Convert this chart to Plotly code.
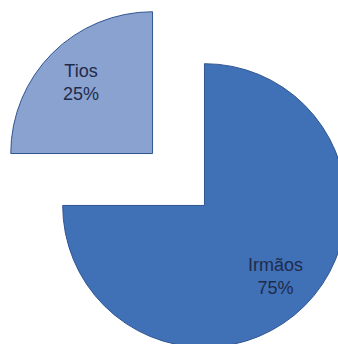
import math
import plotly.graph_objects as go

# Family breakdown shown as an exploded two-slice pie
labels = ["Irmãos", "Tios"]
values = [75, 25]
colors = ["#4070b6", "#8aa2cf"]
pulls = [0.259, 0.259]

W, H = 357, 359
text_color = "#1f2b4a"

fig = go.Figure(
    go.Pie(
        labels=labels,
        values=values,
        sort=False,
        direction="clockwise",
        rotation=0,
        pull=pulls,
        marker=dict(colors=colors, line=dict(color="#2f5590", width=1)),
        textinfo="none",
        hoverinfo="label+percent",
        showlegend=False,
        domain=dict(x=[0, 1], y=[0, 1]),
    )
)

# Slice labels sit along each slice's bisector, following the pie's own geometry
# (first slice starts at 12 o'clock and slices run clockwise)
total = sum(values)
max_pull = max(pulls)
radius = min(W, H) / 2 / (1 + max_pull)
cx, cy = W / 2, H / 2
start = 90.0
annotations = []
for lab, val, pull in zip(labels, values, pulls):
    frac = val / total
    mid = math.radians(start - frac * 360 / 2)
    start -= frac * 360
    dist = radius * (pull + 0.71)
    px = cx + dist * math.cos(mid)
    py = cy - dist * math.sin(mid)
    annotations.append(
        dict(
            x=px / W,
            y=1 - py / H,
            xref="paper",
            yref="paper",
            text=f"{lab}<br>{round(frac * 100)}%",
            showarrow=False,
            xanchor="center",
            yanchor="middle",
            align="center",
            font=dict(family="Liberation Sans, Arial, sans-serif", size=18, color=text_color),
        )
    )

fig.update_layout(
    width=W,
    height=H,
    margin=dict(l=0, r=0, t=0, b=0),
    paper_bgcolor="white",
    plot_bgcolor="white",
    showlegend=False,
    annotations=annotations,
)

fig.write_html(
    "out.html",
    config={"displayModeBar": False},
    post_script="document.body.style.overflow='hidden';",
)
